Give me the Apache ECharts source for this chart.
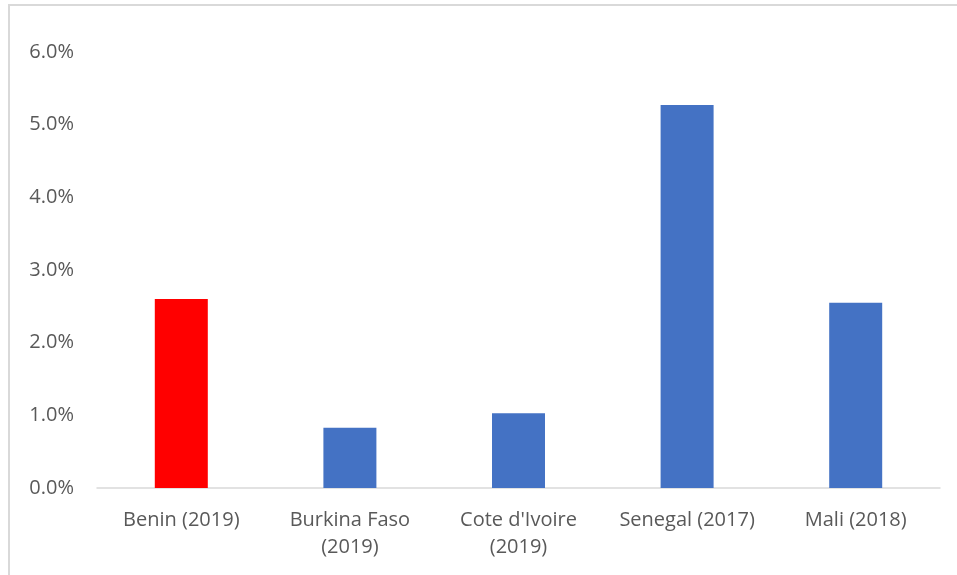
<!DOCTYPE html>
<html>
<head>
<meta charset="utf-8">
<script src="https://cdn.jsdelivr.net/npm/echarts@6/dist/echarts.min.js"></script>
<style>
  html, body { margin: 0; padding: 0; background: #fff; overflow: hidden; }
  #frame {
    position: absolute; left: 8px; top: 4px;
    width: 1000px; height: 700px;
    border-left: 2px solid #d9d9d9; border-top: 2px solid #d9d9d9;
  }
  #barChart { position: absolute; left: 0; top: 0; width: 957px; height: 575px; }
</style>
</head>
<body>
<div id="frame"></div>
<div id="barChart"></div>
<script>
const categories = ['Benin (2019)', 'Burkina Faso\n(2019)', "Cote d'Ivoire\n(2019)", 'Senegal (2017)', 'Mali (2018)'];
const values = [2.60, 0.83, 1.03, 5.27, 2.55];
const barColors = ['#ff0000', '#4472c4', '#4472c4', '#4472c4', '#4472c4'];

let myChart = echarts.init(document.getElementById('barChart'));
let option = {
  animation: false,
  grid: {
    left: 97,
    right: 17,
    top: 52,
    bottom: 87
  },
  xAxis: {
    type: 'category',
    data: categories,
    axisTick: { show: false },
    axisLine: { lineStyle: { color: '#d9d9d9', width: 1.5 } },
    axisLabel: {
      color: '#595959',
      fontFamily: 'Open Sans',
      fontSize: 20,
      lineHeight: 27,
      margin: 19,
      interval: 0
    }
  },
  yAxis: {
    type: 'value',
    min: 0,
    max: 6,
    interval: 1,
    splitLine: { show: false },
    axisLine: { show: false },
    axisTick: { show: false },
    axisLabel: {
      color: '#595959',
      fontFamily: 'Open Sans',
      fontSize: 20,
      margin: 23,
      formatter: v => v.toFixed(1) + '%'
    }
  },
  series: [{
    type: 'bar',
    barWidth: 53,
    data: values.map((v, i) => ({ value: v, itemStyle: { color: barColors[i] } }))
  }]
};
myChart.setOption(option);
</script>
</body>
</html>
